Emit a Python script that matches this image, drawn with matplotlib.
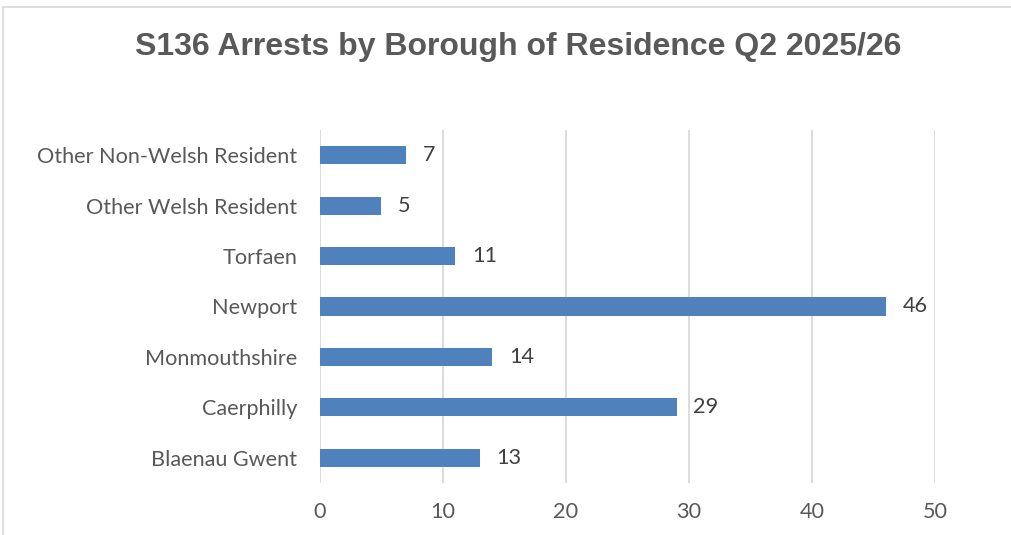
import matplotlib
matplotlib.use("Agg")
import matplotlib.pyplot as plt
from matplotlib.patches import Rectangle

categories = ["Blaenau Gwent", "Caerphilly", "Monmouthshire", "Newport",
              "Torfaen", "Other Welsh Resident", "Other Non-Welsh Resident"]
values = [13, 29, 14, 46, 11, 5, 7]
xticks = [0, 10, 20, 30, 40, 50]
title = "S136 Arrests by Borough of Residence Q2 2025/26"

fig = plt.figure(figsize=(10.12, 5.35), dpi=100)
fig.patch.set_facecolor("white")
fig.patches.append(Rectangle((3/1012, -0.05), 1.1, 1 - 7/535 + 0.05, transform=fig.transFigure,
                             fill=False, edgecolor="#D9D9D9", linewidth=1.2, zorder=0))

ax = fig.add_axes([320/1012, 1 - 483/535, (935 - 320)/1012, (483 - 130)/535])
y = list(range(len(categories)))
ax.barh(y, values, height=0.36, color="#4F81BD", zorder=3)
ax.set_xlim(0, 50)
ax.set_ylim(-0.5, len(categories) - 0.5)
ax.set_xticks(xticks)
ax.set_yticks(y)
ax.set_yticklabels(categories)
ax.grid(axis="x", color="#D9D9D9", linewidth=1.3, zorder=0)
for s in ax.spines.values():
    s.set_visible(False)
ax.tick_params(axis="both", length=0, labelsize=15.6, colors="#595959")
ax.tick_params(axis="y", pad=16.5)
ax.tick_params(axis="x", pad=14)
for lab in ax.get_xticklabels() + ax.get_yticklabels():
    lab.set_fontfamily("Lato")
for yi, v in zip(y, values):
    ax.text(v + 1.35, yi, str(v), va="center", ha="left", fontsize=15.6,
            color="#404040", family="Lato")

fig.text(518/1012, 1 - 47/535, title, ha="center", va="center", fontsize=23,
         fontweight="bold", color="#595959", family="Liberation Sans")

fig.savefig("out.png", dpi=100)
